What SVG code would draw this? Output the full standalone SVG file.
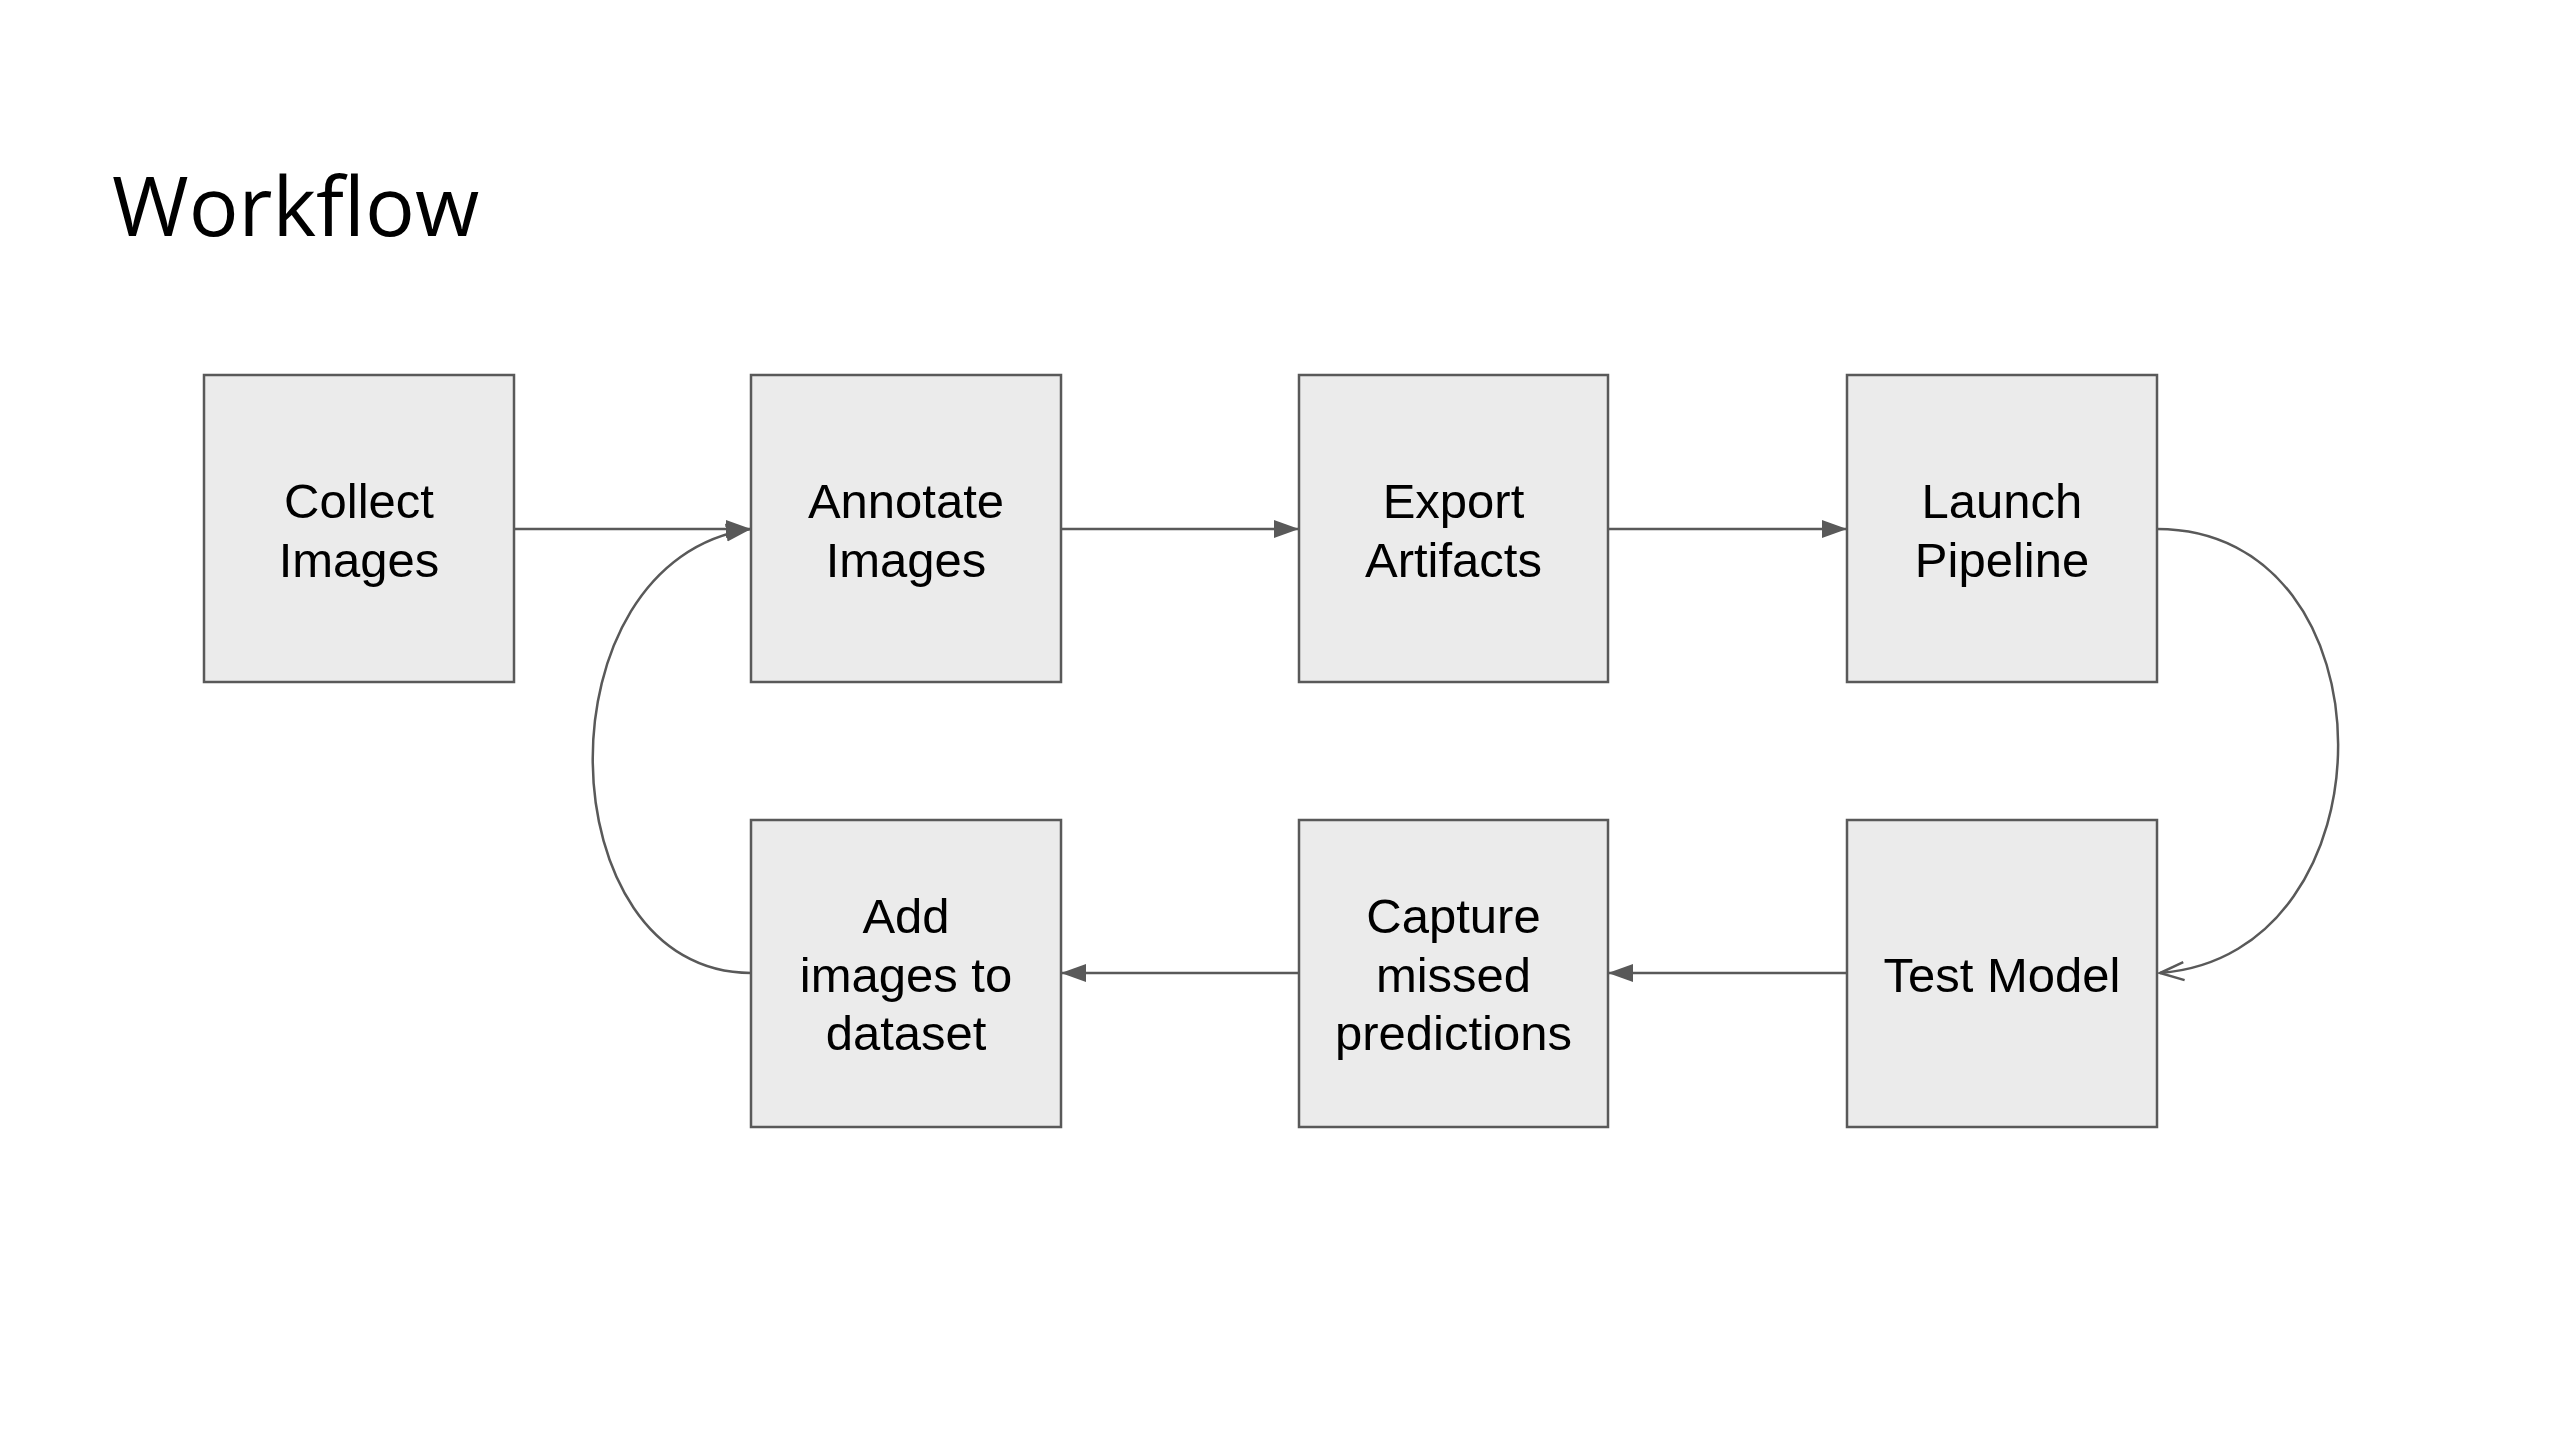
<svg xmlns="http://www.w3.org/2000/svg" width="2560" height="1440" viewBox="0 0 2560 1440">
<style>
.box{fill:#ebebeb;stroke:#595959;stroke-width:2.5}
.lbl{font-family:"Liberation Sans",Arial,sans-serif;font-size:49px;fill:#000;text-anchor:middle}
.title{font-family:"Open Sans","Noto Sans",sans-serif;font-size:83px;fill:#000}
.con{fill:none;stroke:#595959;stroke-width:2.5}
</style>
<defs>
<marker id="tri" markerUnits="userSpaceOnUse" markerWidth="30" markerHeight="22" refX="25" refY="10" orient="auto" viewBox="0 0 30 20">
<path d="M0,1 L25,10 L0,19 Z" fill="#595959"/>
</marker>
<marker id="open" markerUnits="userSpaceOnUse" markerWidth="30" markerHeight="24" refX="26" refY="11" orient="auto" viewBox="0 0 30 22">
<path d="M2,2 L26,11 L2,20" fill="none" stroke="#595959" stroke-width="2.5" stroke-linejoin="miter"/>
</marker>
</defs>
<rect width="2560" height="1440" fill="#fff"/>
<text class="title" x="112" y="236">Workflow</text>
<g id="connectors">
<line class="con" x1="514" y1="529" x2="751" y2="529" marker-end="url(#tri)"/>
<line class="con" x1="1061" y1="529" x2="1299" y2="529" marker-end="url(#tri)"/>
<line class="con" x1="1608" y1="529" x2="1847" y2="529" marker-end="url(#tri)"/>
<path class="con" d="M2157,529 C2398,529 2398,955 2160,973" marker-end="url(#open)"/>
<line class="con" x1="1847" y1="973" x2="1608" y2="973" marker-end="url(#tri)"/>
<line class="con" x1="1299" y1="973" x2="1061" y2="973" marker-end="url(#tri)"/>
<path class="con" d="M751,973 C545,973 535,560 751,529" marker-end="url(#tri)"/>
</g>
<g id="collect">
<rect class="box" x="204" y="375" width="310" height="307"/>
<text class="lbl" x="359" y="518">Collect</text>
<text class="lbl" x="359" y="577">Images</text>
</g>
<g id="annotate">
<rect class="box" x="751" y="375" width="310" height="307"/>
<text class="lbl" x="906" y="518">Annotate</text>
<text class="lbl" x="906" y="577">Images</text>
</g>
<g id="export">
<rect class="box" x="1299" y="375" width="309" height="307"/>
<text class="lbl" x="1453.5" y="518">Export</text>
<text class="lbl" x="1453.5" y="577">Artifacts</text>
</g>
<g id="launch">
<rect class="box" x="1847" y="375" width="310" height="307"/>
<text class="lbl" x="2002" y="518">Launch</text>
<text class="lbl" x="2002" y="577">Pipeline</text>
</g>
<g id="test">
<rect class="box" x="1847" y="820" width="310" height="307"/>
<text class="lbl" x="2002" y="992">Test Model</text>
</g>
<g id="capture">
<rect class="box" x="1299" y="820" width="309" height="307"/>
<text class="lbl" x="1453.5" y="933">Capture</text>
<text class="lbl" x="1453.5" y="992">missed</text>
<text class="lbl" x="1453.5" y="1050">predictions</text>
</g>
<g id="add">
<rect class="box" x="751" y="820" width="310" height="307"/>
<text class="lbl" x="906" y="933">Add</text>
<text class="lbl" x="906" y="992">images to</text>
<text class="lbl" x="906" y="1050">dataset</text>
</g>
</svg>
